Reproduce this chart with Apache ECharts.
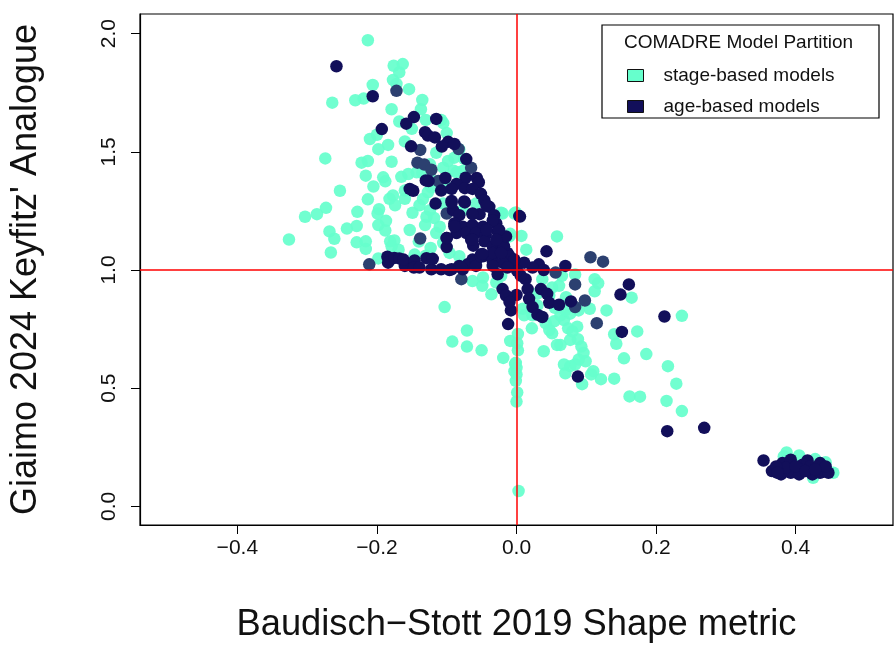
<!DOCTYPE html>
<html><head><meta charset="utf-8">
<script src="https://cdn.jsdelivr.net/npm/echarts@6/dist/echarts.min.js"></script>
<style>html,body{margin:0;background:#fff}#c{width:896px;height:648px}</style></head>
<body><div id="c"></div>
<script>
const xTicks=[-0.4,-0.2,0,0.2,0.4];
const yTicks=[0,0.5,1,1.5,2];
const xTitle='Baudisch\u2212Stott 2019 Shape metric';
const yTitle="Giaimo 2024 Keyfitz' Analogue";
const legendTitle='COMADRE Model Partition';
const stagePoints=[[-0.213,1.972],[-0.176,1.864],[-0.163,1.871],[-0.168,1.836],[-0.177,1.804],[-0.172,1.787],[-0.206,1.783],[-0.154,1.765],[-0.264,1.708],[-0.231,1.718],[-0.219,1.725],[-0.179,1.68],[-0.135,1.719],[-0.137,1.68],[-0.13,1.635],[-0.108,1.635],[-0.105,1.621],[-0.168,1.628],[-0.15,1.597],[-0.1,1.579],[-0.2,1.572],[-0.21,1.554],[-0.16,1.544],[-0.184,1.529],[-0.198,1.511],[-0.274,1.472],[-0.222,1.454],[-0.213,1.461],[-0.179,1.458],[-0.216,1.399],[-0.191,1.392],[-0.188,1.375],[-0.205,1.353],[-0.253,1.335],[-0.213,1.299],[-0.177,1.315],[-0.182,1.301],[-0.174,1.274],[-0.16,1.301],[-0.273,1.263],[-0.286,1.236],[-0.303,1.225],[-0.228,1.246],[-0.197,1.257],[-0.199,1.239],[-0.187,1.208],[-0.198,1.19],[-0.188,1.167],[-0.229,1.186],[-0.243,1.175],[-0.268,1.163],[-0.261,1.132],[-0.326,1.129],[-0.229,1.117],[-0.216,1.121],[-0.216,1.089],[-0.266,1.074],[-0.181,1.121],[-0.175,1.125],[-0.179,1.1],[-0.169,1.086],[-0.198,1.049],[-0.153,1.169],[-0.149,1.242],[-0.139,1.274],[-0.129,1.225],[-0.131,1.19],[-0.124,1.253],[-0.11,1.183],[-0.115,1.156],[-0.105,1.114],[-0.123,1.093],[-0.146,1.065],[-0.096,1.072],[-0.082,1.058],[-0.165,1.394],[-0.155,1.406],[-0.143,1.413],[-0.124,1.447],[-0.105,1.433],[-0.098,1.461],[-0.089,1.475],[-0.082,1.51],[-0.086,1.413],[-0.12,1.378],[-0.127,1.329],[-0.115,1.496],[-0.16,1.336],[-0.077,1.253],[-0.02,1.239],[-0.003,1.239],[-0.01,1.142],[-0.077,1.419],[-0.058,1.281],[-0.105,1.281],[-0.135,1.41],[-0.122,1.35],[-0.134,1.3],[-0.118,1.22],[-0.1,1.35],[-0.09,1.42],[-0.075,1.47],[-0.14,1.12],[-0.13,1.06],
[0.058,1.142],[-0.001,1.243],[0.007,1.144],[0.014,1.086],[-0.009,1.153],[-0.022,1.242],[0.084,0.981],[0.112,0.961],[0.117,0.944],[0.112,0.91],[0.165,0.883],[0.237,0.806],[0.105,0.836],[0.129,0.829],[-0.103,0.843],[-0.063,0.953],[-0.049,0.933],[-0.048,0.968],[-0.036,0.897],[-0.071,0.744],[-0.092,0.697],[-0.071,0.676],[-0.05,0.66],[-0.019,0.628],[-0.009,0.7],[0.002,0.729],[0.001,0.69],[0.002,0.66],[0.022,0.753],[0.039,0.656],[0.058,0.683],[0.063,0.683],[0.051,0.732],[0.077,0.704],[0.088,0.707],[0.087,0.76],[0.074,0.753],[0.068,0.788],[0.054,0.783],[0.042,0.774],[0.047,0.746],[0.063,0.808],[0.077,0.815],[0.089,0.829],[0.071,0.885],[0.061,0.933],[0.051,0.926],[0.037,0.961],[0.065,0.975],[0.047,0.892],[0.009,0.836],[0.011,0.808],[0.023,0.808],[-0.029,0.947],[-0.022,0.975],[0.093,0.676],[0.096,0.649],[0.099,0.614],[0.089,0.621],[0.084,0.6],[0.077,0.593],[0.068,0.6],[0.07,0.563],[0.094,0.517],[0.11,0.572],[0.107,0.558],[0.121,0.538],[0.14,0.54],[0.14,0.728],[0.143,0.688],[0.173,0.74],[0.154,0.626],[0.186,0.644],[0.217,0.593],[0.229,0.519],[0.162,0.465],[0.177,0.464],[0.215,0.446],[0.237,0.403],[-0.002,0.603],[-0.003,0.572],[0,0.586],[0,0.558],[-0.001,0.531],[0.001,0.482],[0,0.443],[0.003,0.065],[-0.001,0.607],[0.03,0.9],[0.055,0.84],[0.07,0.83],[0.03,0.85],[0.08,0.74],
[0.387,0.228],[0.405,0.215],[0.428,0.2],[0.443,0.186],[0.454,0.142],[0.425,0.121],[0.383,0.211]];
const agePoints=[[-0.258,1.862],[-0.206,1.735],[-0.147,1.647],[-0.158,1.619],[-0.115,1.639],[-0.193,1.596],[-0.131,1.583],[-0.127,1.569],[-0.117,1.561],[-0.098,1.542],[-0.107,1.522],[-0.151,1.523],[-0.089,1.533],[-0.072,1.469],[-0.102,1.389],[-0.073,1.39],[-0.057,1.389],[-0.054,1.371],[-0.13,1.379],[-0.126,1.376],[-0.086,1.364],[-0.153,1.343],[-0.148,1.335],[-0.108,1.336],[-0.093,1.343],[-0.074,1.346],[-0.063,1.343],[-0.051,1.322],[-0.116,1.281],[-0.093,1.292],[-0.075,1.29],[-0.046,1.294],[-0.039,1.267],[-0.091,1.253],[-0.082,1.232],[-0.063,1.239],[-0.053,1.236],[-0.032,1.232],[0.004,1.228],[-0.089,1.197],[-0.077,1.183],[-0.063,1.19],[-0.048,1.183],[-0.029,1.197],[-0.086,1.156],[-0.072,1.156],[-0.058,1.156],[-0.044,1.149],[-0.027,1.163],[-0.1,1.135],[-0.065,1.128],[-0.022,1.135],[-0.1,1.097],[-0.062,1.103],[-0.046,1.121],[-0.034,1.1],[-0.018,1.1],[-0.048,1.058],[-0.063,1.044],[-0.029,1.072],[-0.013,1.072],[-0.01,1.038],[-0.001,1.031],[-0.034,1.038],[-0.185,1.056],[-0.184,1.031],[-0.175,1.051],[-0.168,1.049],[-0.16,1.017],[-0.162,1.044],[-0.146,1.04],[-0.129,1.05],[-0.147,1.01],[-0.139,1.01],[-0.122,1.003],[-0.108,1.003],[-0.093,1.003],[-0.082,1.017],[-0.07,1.024],[-0.058,1.038],[-0.051,1.065],[-0.12,1.047],[-0.077,1.003],
[0.005,1.226],[0.043,1.079],[0.07,1.017],[0.032,1.024],[0.023,1.01],[0.011,1.031],[0.039,1],[0.161,0.939],[0.149,0.896],[0.035,0.919],[0.044,0.899],[0.047,0.861],[0.061,0.853],[0.078,0.867],[0.212,0.803],[0.151,0.738],[0.088,0.549],[0.216,0.318],[0.269,0.332],[-0.012,0.771],[-0.008,0.829],[0,0.894],[-0.02,0.919],[-0.015,0.892],[-0.01,0.864],[0.013,0.961],[0.016,0.919],[0.018,0.878],[0.023,0.843],[0.03,0.811],[0.037,0.801],[0.006,0.976],[-0.027,0.982],[-0.096,1],[-0.079,1.01],[-0.058,1.017],[-0.051,1.058],[-0.034,1.072],[-0.018,1.1],[-0.01,1.058],[-0.006,1.024],[-0.02,1.031],[-0.015,1.142],[-0.025,1.169],[-0.034,1.21],[-0.043,1.273],[-0.063,1.128],[-0.1,1.135],[-0.089,1.185],[-0.074,1.286],[-0.093,1.286],[-0.063,1.236],[-0.043,1.169],[-0.029,1.128],[-0.049,1.068],[0.001,0.996],[-0.034,1.017],[-0.003,1.044],[-0.013,1.01],[-0.022,1.072],
[0.354,0.194],[0.366,0.149],[0.379,0.135],[0.381,0.183],[0.393,0.197],[0.393,0.142],[0.405,0.135],[0.41,0.176],[0.417,0.194],[0.424,0.135],[0.421,0.169],[0.435,0.183],[0.435,0.142],[0.447,0.142],[0.443,0.169],[0.386,0.163],[0.4,0.169],[0.414,0.149],[0.428,0.156],[0.372,0.169],[0.374,0.142]];
const ageBlendedPoints=[[-0.172,1.758],[-0.138,1.508],[-0.083,1.512],[-0.142,1.454],[-0.132,1.446],[-0.122,1.424],[-0.065,1.433],[-0.112,1.376],[-0.1,1.239],[-0.138,1.133],[-0.211,1.024],[0.106,1.054],[0.124,1.035],[0.056,0.989],[0.084,0.939],[0.098,0.871],[0.115,0.775],[0.084,0.843],[-0.079,0.961]];
const refX=[0];
const refY=[1];

const chart=echarts.init(document.getElementById('c'),null,{renderer:'canvas'});
const font='"Liberation Sans",Arial,sans-serif';
const tickStyle={show:true,inside:false,length:9,lineStyle:{color:'#000',width:1}};
chart.setOption({
  animation:false,
  backgroundColor:'#fff',
  grid:{left:135,right:3,top:14,bottom:115,show:true,borderColor:'#000',borderWidth:1.2,backgroundColor:'transparent'},
  xAxis:{type:'value',min:-0.5395,max:0.5395,
    name:xTitle,nameLocation:'middle',nameGap:82,
    nameTextStyle:{fontFamily:font,fontSize:36.3,color:'#111'},
    axisLine:{show:true,onZero:false,lineStyle:{color:'#000',width:1.2}},
    axisTick:{...tickStyle,customValues:xTicks},
    axisLabel:{customValues:xTicks,margin:13,fontFamily:font,fontSize:21,color:'#111',
      formatter:v=>v.toFixed(1).replace('-','\u2212').replace(/^\u22120\.0$/,'0.0')},
    splitLine:{show:false}},
  yAxis:{type:'value',min:-0.079,max:2.083,
    name:yTitle,nameLocation:'middle',nameGap:96,nameRotate:90,
    nameTextStyle:{fontFamily:font,fontSize:36,color:'#111'},
    axisLine:{show:true,onZero:false,lineStyle:{color:'#000',width:1.2}},
    axisTick:{...tickStyle,customValues:yTicks},
    axisLabel:{customValues:yTicks,rotate:90,margin:20,fontFamily:font,fontSize:21,color:'#111',
      formatter:v=>v.toFixed(1)},
    splitLine:{show:false}},
  title:{text:legendTitle,left:624,top:33,textStyle:{fontFamily:font,fontSize:19,fontWeight:'normal',color:'#111'},padding:0},
  legend:{left:627,top:66,orient:'vertical',itemWidth:16,itemHeight:12,itemGap:12,padding:0,
    data:[{name:'stage-based models',icon:'rect',itemStyle:{color:'#66ffcc',opacity:1,borderColor:'#111',borderWidth:1}},
          {name:'age-based models',icon:'rect',itemStyle:{color:'#120f5a',opacity:1,borderColor:'#111',borderWidth:1}}],
    textStyle:{fontFamily:font,fontSize:19,color:'#111',padding:[0,0,0,15]}},
  graphic:[{type:'rect',z:-1,silent:true,shape:{x:602,y:25,width:277,height:93},
    style:{fill:'#fff',stroke:'#000',lineWidth:1.2}}],
  series:[
    {name:'stage-based models',type:'scatter',data:stagePoints,symbolSize:12.5,z:2,
     itemStyle:{color:'#66ffcc',opacity:0.93},
     legendHoverLink:false},
    {name:'age-based models',type:'scatter',data:ageBlendedPoints,symbolSize:12.5,z:3,
     itemStyle:{color:'#2c4070',opacity:1}},
    {name:'age-based models',type:'scatter',data:agePoints,symbolSize:12.5,z:4,
     itemStyle:{color:'#120f5a',opacity:1},
     markLine:{silent:true,symbol:'none',animation:false,label:{show:false},
       lineStyle:{color:'#ff0000',width:1.5,type:'solid',opacity:1},
       data:[...refX.map(v=>({xAxis:v})),...refY.map(v=>({yAxis:v}))]}}
  ]
});
</script></body></html>
